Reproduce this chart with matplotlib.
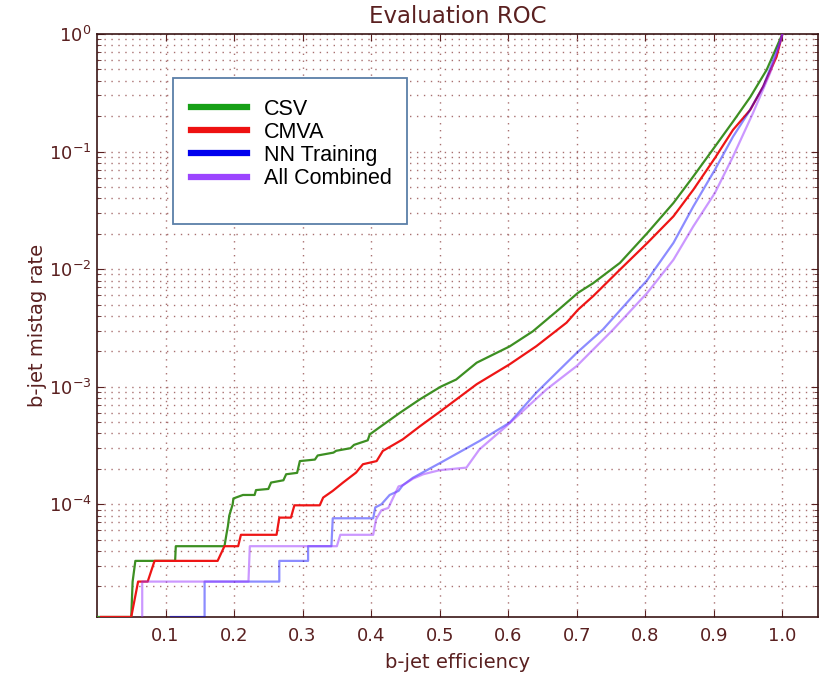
import matplotlib
matplotlib.use("Agg")
import matplotlib.pyplot as plt
from matplotlib.lines import Line2D
from matplotlib.patches import Rectangle
from matplotlib.ticker import FixedLocator, LogLocator, NullFormatter

# ---------------- data ----------------
csv_eff = [0.0, 0.050, 0.052, 0.056, 0.114, 0.115, 0.186, 0.189, 0.191, 0.193, 0.198,
           0.199, 0.213, 0.230, 0.232, 0.250, 0.254, 0.272, 0.276, 0.292, 0.296, 0.318,
           0.322, 0.345, 0.349, 0.370, 0.375, 0.395, 0.398, 0.412, 0.442, 0.471, 0.5015,
           0.524, 0.554, 0.602, 0.636, 0.675, 0.702, 0.724, 0.763, 0.803, 0.841, 0.870,
           0.9015, 0.928, 0.953, 0.977, 1.0]
csv_mis = [1.1e-5, 1.1e-5, 2.2e-5, 3.3e-5, 3.3e-5, 4.4e-5, 4.4e-5, 5.6e-5, 6.5e-5, 8.0e-5, 1.0e-4,
           1.12e-4, 1.2e-4, 1.2e-4, 1.32e-4, 1.35e-4, 1.53e-4, 1.6e-4, 1.8e-4, 1.85e-4, 2.33e-4, 2.4e-4,
           2.6e-4, 2.75e-4, 2.85e-4, 3.0e-4, 3.2e-4, 3.5e-4, 3.93e-4, 4.5e-4, 6.0e-4, 7.8e-4, 1.0e-3,
           1.15e-3, 1.6e-3, 2.2e-3, 2.96e-3, 4.6e-3, 6.3e-3, 7.6e-3, 0.0113, 0.0203, 0.0365, 0.0614,
           0.110, 0.180, 0.290, 0.495, 1.0]

cmva_eff = [0.006, 0.050, 0.060, 0.074, 0.084, 0.176, 0.186, 0.206, 0.210, 0.262, 0.266,
            0.283, 0.288, 0.325, 0.330, 0.344, 0.359, 0.378, 0.388, 0.408, 0.417, 0.446,
            0.471, 0.5015, 0.554, 0.602, 0.641, 0.685, 0.702, 0.724, 0.763, 0.803, 0.841,
            0.870, 0.9015, 0.928, 0.953, 0.972, 0.9915, 1.0]
cmva_mis = [1.1e-5, 1.1e-5, 2.2e-5, 2.2e-5, 3.3e-5, 3.3e-5, 4.4e-5, 4.4e-5, 5.5e-5, 5.5e-5, 7.7e-5,
            7.7e-5, 9.8e-5, 9.8e-5, 1.14e-4, 1.3e-4, 1.53e-4, 1.86e-4, 2.19e-4, 2.33e-4, 2.84e-4, 3.56e-4,
            4.6e-4, 6.2e-4, 1.05e-3, 1.55e-3, 2.21e-3, 3.5e-3, 4.53e-3, 5.9e-3, 9.9e-3, 0.0167, 0.0281,
            0.0473, 0.088, 0.153, 0.226, 0.357, 0.64, 1.0]

nn_eff = [0.108, 0.157, 0.157, 0.266, 0.266, 0.308, 0.308, 0.342, 0.344, 0.403, 0.406,
          0.415, 0.427, 0.440, 0.446, 0.461, 0.5015, 0.558, 0.602, 0.641, 0.700, 0.738,
          0.803, 0.841, 0.870, 0.9015, 0.928, 0.950, 0.972, 0.996, 1.0]
nn_mis = [1.1e-5, 1.1e-5, 2.2e-5, 2.2e-5, 3.3e-5, 3.3e-5, 4.4e-5, 4.4e-5, 7.6e-5, 7.6e-5, 9.4e-5,
          1.0e-4, 1.2e-4, 1.3e-4, 1.45e-4, 1.68e-4, 2.26e-4, 3.45e-4, 4.94e-4, 8.9e-4, 1.94e-3, 3.06e-3,
          8.1e-3, 0.0167, 0.0341, 0.070, 0.134, 0.212, 0.357, 0.83, 1.0]

all_eff = [0.066, 0.066, 0.221, 0.223, 0.350, 0.355, 0.403, 0.407, 0.415, 0.425, 0.440,
           0.446, 0.461, 0.476, 0.500, 0.539, 0.558, 0.597, 0.656, 0.700, 0.753, 0.803,
           0.841, 0.870, 0.9015, 0.928, 0.957, 0.982, 0.996, 1.0]
all_mis = [1.1e-5, 2.2e-5, 2.2e-5, 4.4e-5, 4.4e-5, 5.5e-5, 5.5e-5, 7.4e-5, 8.9e-5, 9.3e-5, 1.42e-4,
           1.45e-4, 1.65e-4, 1.8e-4, 1.95e-4, 2.05e-4, 2.93e-4, 4.6e-4, 9.5e-4, 1.5e-3, 3.06e-3, 6.3e-3,
           0.012, 0.0231, 0.0444, 0.0908, 0.212, 0.464, 0.83, 1.0]

labels = ["CSV", "CMVA", "NN Training", "All Combined"]
x_ticks = [0.1, 0.2, 0.3, 0.4, 0.5, 0.6, 0.7, 0.8, 0.9, 1.0]
x_ticklabels = ["0.1", "0.2", "0.3", "0.4", "0.5", "0.6", "0.7", "0.8", "0.9", "1.0"]
y_ticks = [1e-4, 1e-3, 1e-2, 1e-1, 1e0]
y_ticklabels = [r"$10^{-4}$", r"$10^{-3}$", r"$10^{-2}$", r"$10^{-1}$", r"$10^{0}$"]

# ---------------- style ----------------
txt = "#5a2020"
grid_c = "#a87070"
line_colors = ["#3d8f22", "#ee1515", (0.0, 0.0, 1.0, 0.45), (0.6, 0.2, 1.0, 0.5)]
legend_colors = ["#17a017", "#ee1111", "#0000ee", "#9c45ff"]

plt.rcParams["mathtext.default"] = "regular"
fig = plt.figure(figsize=(8.31, 6.78), dpi=100)
ax = fig.add_axes([0.1167, 0.09, 0.8677, 0.8599])

series = [(csv_eff, csv_mis), (cmva_eff, cmva_mis), (nn_eff, nn_mis), (all_eff, all_mis)]
for (xe, ym), c in zip(series, line_colors):
    ax.plot(xe, ym, color=c, lw=1.6, zorder=3)

ax.set_yscale("log")
ax.set_xlim(0.0, 1.052)
ax.set_ylim(1.1e-5, 1.0)

ax.xaxis.set_major_locator(FixedLocator(x_ticks))
ax.set_xticklabels(x_ticklabels)
ax.yaxis.set_major_locator(FixedLocator(y_ticks))
ax.set_yticklabels(y_ticklabels)
ax.yaxis.set_minor_locator(LogLocator(base=10, subs=range(2, 10)))
ax.yaxis.set_minor_formatter(NullFormatter())

ax.tick_params(which="both", direction="in", top=True, right=True, colors=txt,
               labelcolor=txt, labelsize=13)
ax.tick_params(which="major", length=5)
ax.tick_params(axis="x", which="major", pad=7)
ax.tick_params(axis="y", which="major", pad=4)
ax.tick_params(which="minor", length=3)

ax.grid(True, which="major", axis="x", linestyle=(0, (1, 4)), color=grid_c, lw=1.0)
ax.grid(True, which="both", axis="y", linestyle=(0, (1, 4)), color=grid_c, lw=1.0)
for s in ax.spines.values():
    s.set_color("#3a1515")
    s.set_linewidth(1.2)

ax.set_title("Evaluation ROC", color=txt, fontsize=16.5, pad=8)
ax.set_xlabel("b-jet efficiency", color=txt, fontsize=14, labelpad=6)
ax.set_ylabel("b-jet mistag rate", color=txt, fontsize=14, labelpad=1)

# legend frame
ax.add_patch(Rectangle((0.105, 0.674), 0.3245, 0.2504, transform=ax.transAxes,
                       facecolor="white", edgecolor="#5a7fa8", lw=1.3, zorder=5))
handles = [Line2D([0], [0], color=c, lw=4.5) for c in legend_colors]
leg = ax.legend(handles, labels, loc="upper left", bbox_to_anchor=(0.131, 0.889),
                frameon=False, borderpad=0, borderaxespad=0, handlelength=2.6,
                handletextpad=0.75, labelspacing=0.1,
                prop={"family": "Liberation Sans", "size": 15.5})
leg.set_zorder(6)

fig.savefig("out.png", dpi=100)
